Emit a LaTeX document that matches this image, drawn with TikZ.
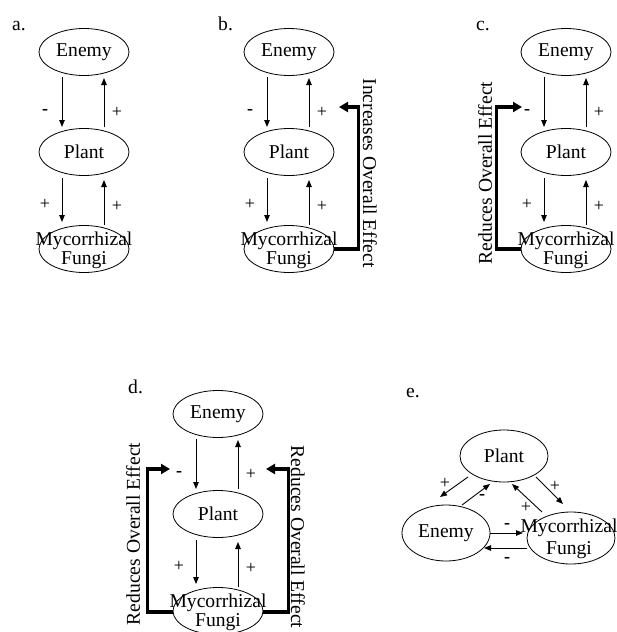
\documentclass[tikz,border=0pt]{standalone}
\usepackage{fontspec}
\setmainfont{Liberation Serif}
\usetikzlibrary{shapes.geometric,arrows.meta}
\tikzset{
  ell/.style={draw, ellipse, line width=0.8pt, minimum width=90pt, minimum height=47pt, inner sep=0pt},
  txt/.style={font=\fontsize{19.6}{21}\selectfont, inner sep=0pt},
  lbl/.style={font=\fontsize{18}{20}\selectfont, inner sep=0pt},
  mlbl/.style={font=\fontsize{18}{20}\selectfont\bfseries, inner sep=0pt},
  plab/.style={font=\fontsize{19.6}{21}\selectfont, inner sep=0pt, anchor=base west},
  arr/.style={line width=0.9pt, -{Triangle[length=7pt,width=5.5pt]}},
  fb/.style={line width=3.2pt, line join=miter, -{Triangle[length=9pt,width=10pt]}}
}
\newcommand\stackpanel[3]{%
\begin{scope}[shift={(#2,#3)}]
  \node[ell] (#1E) at (0,0) {};
  \node[txt] (#1Et) at (#1E.center) {Enemy};
  \node[ell] (#1P) at (0,100) {};
  \node[txt] (#1Pt) at (#1P.center) {Plant};
  \node[ell] (#1F) at (0,197) {};
  \node[txt] (#1Ft) at (0,189) {Mycorrhizal};
  \node[txt] (#1Fu) at (0,208) {Fungi};
  \draw[arr] ([shift={(-22,25)}]#1E.center) -- ([shift={(-22,-25)}]#1P.center);
  \draw[arr] ([shift={(20,-25)}]#1P.center) -- ([shift={(20,26)}]#1E.center);
  \draw[arr] ([shift={(-22,26)}]#1P.center) -- ([shift={(-22,-27)}]#1F.center);
  \draw[arr] ([shift={(20,-24)}]#1F.center) -- ([shift={(20,28)}]#1P.center);
  \node[mlbl] (#1l1) at (-39,60) {-};
  \node[lbl] (#1l2) at (33,60) {+};
  \node[lbl] (#1l3) at (-39,152) {+};
  \node[lbl] (#1l4) at (33,154) {+};
\end{scope}}
\begin{document}
\begin{tikzpicture}[x=1pt,y=-1pt]
\useasboundingbox (0,0) rectangle (617,632);
% panel labels
\node[plab] (la) at (12,30) {a.};
\node[plab] (lb) at (218,30) {b.};
\node[plab] (lc) at (476,30) {c.};
\node[plab] (ld) at (128,393) {d.};
\node[plab] (le) at (406,397) {e.};
% panels a-d
\stackpanel{a}{84}{52}
\stackpanel{b}{289}{52}
\stackpanel{c}{566}{52}
\stackpanel{d}{218}{414}
% panel b feedback
\coordinate (bTip) at (339,107);
\draw[fb] (bF.east) -- ++(24,0) |- (bTip);
\node[txt, rotate=-90] (bT) at (370,173) {Increases Overall Effect};
% panel c feedback
\coordinate (cTip) at (522,107);
\draw[fb] (cF.west) -- ++(-24,0) |- (cTip);
\node[txt, rotate=90] (cT) at (485,173) {Reduces Overall Effect};
% panel d feedbacks
\coordinate (dTipL) at (170,469);
\coordinate (dTipR) at (266,469);
\draw[fb] ([yshift=-1pt]dF.west) -- ++(-25,0) |- (dTipL);
\draw[fb] ([yshift=-1pt]dF.east) -- ++(25,0) |- (dTipR);
\node[txt, rotate=90] (dTL) at (133,534) {Reduces Overall Effect};
\node[txt, rotate=-90] (dTR) at (298,537) {Reduces Overall Effect};
% panel e
\node[ell, minimum width=88pt, minimum height=52pt] (eP) at (504,456) {};
\node[txt] (ePt) at (eP.center) {Plant};
\node[ell, minimum width=88pt, minimum height=56pt] (eE) at (446,533) {};
\node[txt] (eEt) at (eE.center) {Enemy};
\node[ell, minimum width=88pt, minimum height=52pt] (eF) at (571,538) {};
\node[txt] (eFt) at (569,528) {Mycorrhizal};
\node[txt] (eFu) at (569,550) {Fungi};
\draw[arr] ([shift={(-36,21)}]eP.center) -- ([shift={(-6,-36)}]eE.center);
\draw[arr] ([shift={(16,-28)}]eE.center) -- ([shift={(-14,28)}]eP.center);
\draw[arr] ([shift={(-29,-26)}]eF.center) -- ([shift={(8,28)}]eP.center);
\draw[arr] ([shift={(32,21)}]eP.center) -- ([shift={(-8,-34)}]eF.center);
\draw[arr] (eE.east) -- ([shift={(-48,-5)}]eF.center);
\draw[arr] ([shift={(-44,10)}]eF.center) -- ([shift={(38,15)}]eE.center);
\node[lbl] (el1) at (445,483) {+};
\node[mlbl] (el2) at (482,497) {-};
\node[lbl] (el3) at (526,507) {+};
\node[lbl] (el4) at (555,486) {+};
\node[mlbl] (el5) at (507,526) {-};
\node[mlbl] (el6) at (507,560) {-};
\end{tikzpicture}
\end{document}
